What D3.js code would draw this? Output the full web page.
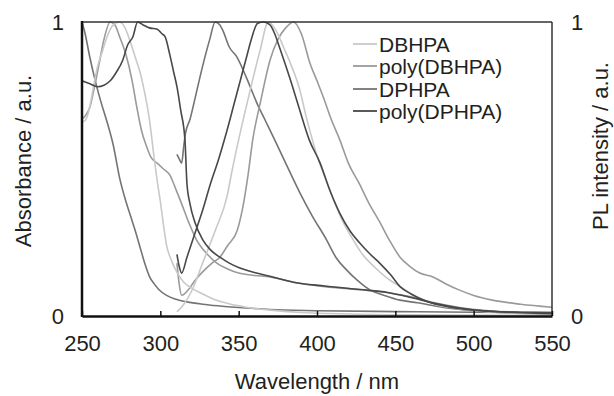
<!DOCTYPE html>
<html><head><meta charset="utf-8">
<script src="https://cdn.jsdelivr.net/npm/d3@7"></script>
<style>
html,body{margin:0;padding:0;background:#fff;}
svg text{font-family:"Liberation Sans",Arial,sans-serif;fill:#231f20;}
</style></head>
<body>
<svg id="chart" width="614" height="396"></svg>
<script>
// ---------- data (wavelength nm, normalized value) ----------
const xTicks = [250, 300, 350, 400, 450, 500, 550];
const yTickLabels = ["0", "1"];
const seriesNames = ["DBHPA", "poly(DBHPA)", "DPHPA", "poly(DPHPA)"];
const seriesColors = ["#c9c9c9", "#9a9a9a", "#747474", "#484848"];

const absDBHPA = [[250,0.66],[252,0.665],[254,0.69],[256,0.74],[258,0.80],[260,0.85],[263,0.90],[266,0.95],[270,0.99],[274,1.0],[277,0.985],[281,0.93],[284,0.88],[287,0.83],[290,0.76],[293,0.67],[296,0.54],[298,0.46],[300,0.39],[302,0.31],[304,0.24],[307,0.19],[311,0.145],[315,0.115],[320,0.095],[327,0.075],[335,0.055],[345,0.04],[355,0.03],[370,0.02],[390,0.012],[420,0.007],[460,0.004],[500,0.003],[550,0.002]];

const absPolyDBHPA = [[250,0.67],[252,0.68],[255,0.71],[258,0.78],[261,0.86],[264,0.94],[268,1.0],[271,0.99],[274,0.95],[278,0.89],[282,0.80],[285,0.71],[288,0.63],[291,0.58],[294,0.54],[298,0.52],[302,0.50],[306,0.48],[310,0.43],[313,0.39],[318,0.32],[323,0.26],[330,0.21],[336,0.18],[343,0.16],[350,0.146],[360,0.138],[370,0.133],[385,0.115],[405,0.1],[427,0.09],[445,0.08],[460,0.065],[475,0.045],[490,0.03],[510,0.018],[530,0.013],[550,0.012]];

const absDPHPA = [[250,1.0],[252,0.96],[255,0.88],[258,0.81],[262,0.73],[266,0.66],[270,0.58],[274,0.47],[278,0.39],[281,0.34],[284,0.29],[287,0.235],[290,0.18],[293,0.135],[296,0.11],[299,0.09],[304,0.07],[310,0.057],[317,0.048],[327,0.04],[338,0.034],[355,0.027],[370,0.022],[400,0.018],[450,0.015],[500,0.013],[550,0.011]];

const absPolyDPHPA = [[250,0.80],[255,0.79],[260,0.78],[264,0.785],[268,0.80],[272,0.83],[276,0.87],[279,0.92],[282.5,0.95],[285.5,1.0],[289,0.99],[293,0.98],[298,0.975],[301,0.96],[303,0.95],[306,0.89],[308.5,0.83],[310.6,0.78],[313,0.70],[315.7,0.6],[317,0.45],[319,0.38],[322,0.32],[327,0.26],[332,0.225],[338,0.2],[344,0.18],[350,0.165],[360,0.148],[370,0.135],[385,0.115],[405,0.102],[427,0.09],[445,0.08],[460,0.063],[475,0.043],[490,0.028],[510,0.016],[530,0.013],[550,0.012]];

const plDBHPA = [[310.6,0.014],[315,0.04],[320,0.085],[327,0.18],[335,0.29],[342.5,0.405],[346,0.5],[350,0.6],[357,0.76],[363.5,0.9],[369,1.0],[374,0.97],[379,0.91],[383,0.86],[389,0.77],[393,0.68],[397,0.6],[401,0.53],[406,0.46],[411,0.39],[416.6,0.32],[423,0.26],[429,0.21],[436,0.17],[444.5,0.13],[453,0.1],[462,0.07],[475,0.04],[490,0.025],[510,0.014],[550,0.006]];

const plPolyDBHPA = [[310.6,0.18],[312,0.11],[313.6,0.07],[318,0.09],[322,0.12],[327,0.15],[333,0.18],[338,0.2],[343,0.24],[349,0.29],[353,0.38],[356,0.48],[359,0.6],[364,0.73],[370,0.87],[375,0.94],[380,0.98],[385,1.0],[390,0.96],[395.5,0.86],[400,0.8],[404,0.745],[409,0.67],[414.5,0.6],[420,0.52],[427,0.45],[433,0.385],[440,0.32],[446,0.26],[453,0.2],[459,0.17],[465.6,0.146],[474,0.133],[482,0.11],[491,0.088],[500,0.07],[512,0.054],[530,0.04],[550,0.03]];

const plDPHPA = [[310.6,0.55],[312,0.535],[313.6,0.52],[315,0.58],[316,0.62],[319,0.67],[323,0.76],[327,0.85],[331.5,0.94],[335,1.0],[338,0.99],[340,0.97],[344,0.915],[349,0.88],[355,0.81],[362,0.72],[367,0.665],[372,0.61],[380,0.52],[389,0.42],[397,0.34],[406,0.26],[412,0.2],[419,0.156],[426,0.12],[434,0.088],[443,0.07],[453,0.054],[464,0.045],[480,0.03],[500,0.018],[520,0.011],[550,0.006]];

const plPolyDPHPA = [[310.6,0.21],[312,0.17],[313.6,0.146],[317,0.2],[322,0.28],[327,0.36],[332,0.45],[337,0.53],[342.5,0.63],[347,0.72],[351,0.8],[355,0.88],[358,0.94],[362,0.995],[366,1.0],[370,0.99],[373,0.96],[376,0.915],[382.6,0.81],[389,0.70],[395,0.6],[402,0.52],[408,0.43],[414.5,0.35],[421,0.29],[427,0.25],[434,0.21],[440,0.18],[447,0.14],[453,0.1],[460,0.075],[470,0.05],[485,0.03],[500,0.02],[525,0.012],[550,0.008]];

// series -> colour index
const lines = [
  {data: absDPHPA, c: 2}, {data: plDPHPA, c: 2},
  {data: absPolyDBHPA, c: 1}, {data: plPolyDBHPA, c: 1},
  {data: absDBHPA, c: 0}, {data: plDBHPA, c: 0},
  {data: absPolyDPHPA, c: 3}, {data: plPolyDPHPA, c: 3}
];

// ---------- layout ----------
const svg = d3.select("#chart");
const L = 82, R = 552, T = 22, B = 316;
const x = d3.scaleLinear().domain([250, 550]).range([L, R]);
const y = d3.scaleLinear().domain([0, 1]).range([B, T]);

svg.append("defs").append("clipPath").attr("id", "clip")
  .append("rect").attr("x", L).attr("y", T - 1).attr("width", R - L).attr("height", B - T + 1);

const line = d3.line().x(d => x(d[0])).y(d => y(d[1])).curve(d3.curveMonotoneX);

const g = svg.append("g").attr("clip-path", "url(#clip)");
lines.forEach(s => {
  g.append("path").datum(s.data).attr("d", line)
    .attr("fill", "none").attr("stroke", seriesColors[s.c])
    .attr("stroke-width", 1.6).attr("stroke-linejoin", "round");
});

// frame top/right
svg.append("line").attr("x1", L).attr("x2", R).attr("y1", T).attr("y2", T)
  .attr("stroke", "#333").attr("stroke-width", 1.5);
svg.append("line").attr("x1", R).attr("x2", R).attr("y1", T).attr("y2", B)
  .attr("stroke", "#333").attr("stroke-width", 1.5);

// bottom axis
const xAxis = d3.axisBottom(x).tickValues(xTicks).tickSizeInner(-5).tickSizeOuter(0).tickPadding(19);
const gx = svg.append("g").attr("transform", `translate(0,${B})`).call(xAxis);
gx.select(".domain").attr("stroke", "#111").attr("stroke-width", 2.5);
gx.selectAll(".tick line").attr("stroke", "#111").attr("stroke-width", 1.5);
gx.selectAll(".tick text").style("font-size", "22px").attr("fill", "#231f20");

// left axis line
svg.append("line").attr("x1", L).attr("x2", L).attr("y1", T - 1).attr("y2", B + 1)
  .attr("stroke", "#111").attr("stroke-width", 2.5);

// y tick labels (left and right)
[0, 1].forEach(v => {
  svg.append("text").attr("x", 64).attr("y", y(v) + 8).attr("text-anchor", "end")
    .style("font-size", "22px").text(yTickLabels[v]);
  svg.append("text").attr("x", 571).attr("y", y(v) + 8).attr("text-anchor", "start")
    .style("font-size", "22px").text(yTickLabels[v]);
});

// axis titles
svg.append("text").attr("x", (L + R) / 2).attr("y", 389).attr("text-anchor", "middle")
  .style("font-size", "22px").text("Wavelength / nm");
svg.append("text").attr("transform", "translate(31,161) rotate(-90)").attr("text-anchor", "middle")
  .style("font-size", "22px").text("Absorbance / a.u.");
svg.append("text").attr("transform", "translate(608,146) rotate(-90)").attr("text-anchor", "middle")
  .style("font-size", "22px").text("PL intensity / a.u.");

// legend
const legY = [44, 66, 89, 111];
seriesNames.forEach((n, i) => {
  svg.append("line").attr("x1", 353).attr("x2", 377).attr("y1", legY[i]).attr("y2", legY[i])
    .attr("stroke", seriesColors[i]).attr("stroke-width", 1.8);
  svg.append("text").attr("x", 379).attr("y", legY[i] + 7.5).style("font-size", "21px").text(n);
});
</script>
</body></html>
